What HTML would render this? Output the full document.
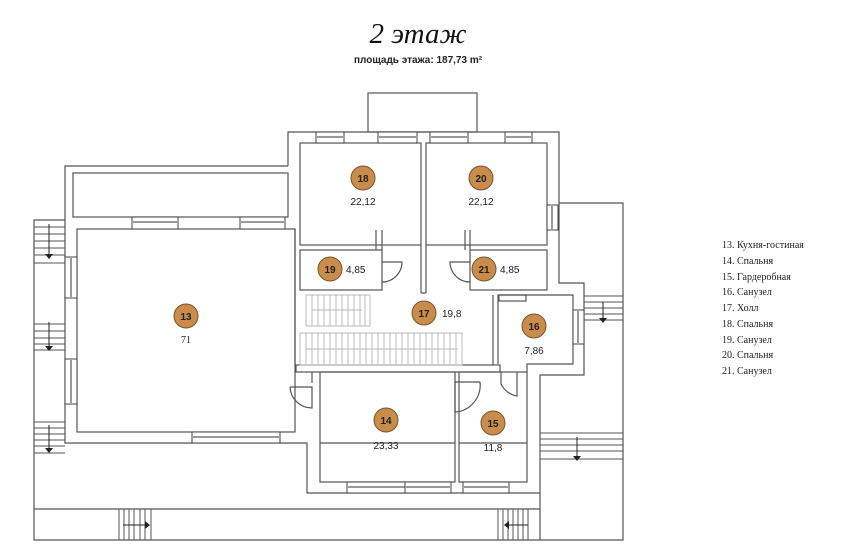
<!DOCTYPE html>
<html><head><meta charset="utf-8"><style>
body{margin:0;background:#fff;width:859px;height:558px;overflow:hidden}
svg{position:absolute;left:0;top:0}
</style></head><body>
<svg width="859" height="558" viewBox="0 0 859 558" xmlns="http://www.w3.org/2000/svg">
<text x="418" y="43" text-anchor="middle" font-family="Liberation Serif,serif" font-style="italic" font-size="29" fill="#111">2 этаж</text>
<text x="418" y="63" text-anchor="middle" font-family="Liberation Sans,sans-serif" font-weight="bold" font-size="10" fill="#222">площадь этажа: 187,73 m²</text>
<g fill="none" stroke="#555" stroke-width="1.2">
<!-- balcony top -->
<rect x="368" y="93" width="109" height="39"/>
<!-- bedroom block outer -->
<polyline points="288,166 288,132 559,132 559,283 584,283 584,375 540,375 540,540"/>
<!-- left wing outer -->
<polyline points="288,166 65,166 65,443 307,443 307,493 540,493"/>
<rect x="73" y="173" width="215" height="44"/>
<rect x="77" y="229" width="218" height="203"/>
<!-- left terrace -->
<polyline points="65,220 34,220 34,540 540,540"/>
<line x1="34" y1="509" x2="540" y2="509"/>
<!-- right terrace -->
<polyline points="559,203 623,203 623,540 540,540"/>
<!-- bedrooms -->
<rect x="300" y="143" width="121" height="102"/>
<rect x="426" y="143" width="121" height="102"/>
<rect x="300" y="250" width="82" height="40"/>
<rect x="470" y="250" width="77" height="40"/>
<line x1="421" y1="245" x2="421" y2="293"/><line x1="426" y1="245" x2="426" y2="293"/>
<line x1="421" y1="293" x2="426" y2="293"/>
<line x1="376" y1="230" x2="376" y2="250"/><line x1="382" y1="230" x2="382" y2="250"/>
<line x1="465" y1="230" x2="465" y2="250"/><line x1="470" y1="230" x2="470" y2="250"/>
<line x1="295" y1="229" x2="295" y2="365"/>
<line x1="493" y1="295" x2="493" y2="365"/>
<!-- hall bottom wall -->
<rect x="296" y="365" width="204" height="7"/>
<!-- rooms 14,15 -->
<rect x="320" y="372" width="135" height="110"/>
<rect x="459" y="372" width="68" height="110"/>
<line x1="320" y1="443" x2="455" y2="443"/><line x1="459" y1="443" x2="527" y2="443"/>
<line x1="312" y1="372" x2="312" y2="383"/>
<!-- room 16 -->
<polyline points="498,364 498,295 573,295 573,364 527,364 527,372"/>
<rect x="499" y="295" width="27" height="6"/>
<!-- doors -->
<path d="M382,262 L402,262 A20,20 0 0 1 382,282" />
<path d="M470,262 L450,262 A20,20 0 0 0 470,282" />
<path d="M290,387 L312,387 L312,408 A22,22 0 0 1 290,387"/>
<path d="M480,382 L455,382 L455,412 A27,27 0 0 0 480,382"/>
<path d="M501,372 L501,384 A22,22 0 0 0 517,396 L517,372"/>
</g>
<!-- windows -->
<g fill="#fff" stroke="#444" stroke-width="1">
<rect x="316" y="132" width="28" height="11"/><rect x="378" y="132" width="39" height="11"/>
<rect x="430" y="132" width="38" height="11"/><rect x="505" y="132" width="27" height="11"/>
<rect x="132" y="217" width="46" height="12"/><rect x="240" y="217" width="45" height="12"/>
<rect x="65" y="257" width="12" height="41"/><rect x="65" y="359" width="12" height="45"/>
<rect x="192" y="432" width="88" height="11"/>
<rect x="547" y="205" width="11" height="25"/><rect x="573" y="310" width="11" height="34"/>
<rect x="347" y="482" width="59" height="11"/><rect x="405" y="482" width="46" height="11"/><rect x="463" y="482" width="46" height="11"/>
</g>
<g stroke="#333" stroke-width="1">
<line x1="133" y1="222" x2="177" y2="222"/><line x1="241" y1="222" x2="284" y2="222"/>
<line x1="71" y1="258" x2="71" y2="297"/><line x1="71" y1="360" x2="71" y2="403"/>
<line x1="193" y1="437" x2="279" y2="437"/>
<line x1="317" y1="137" x2="343" y2="137"/><line x1="379" y1="137" x2="416" y2="137"/><line x1="431" y1="137" x2="467" y2="137"/><line x1="506" y1="137" x2="531" y2="137"/>
<line x1="552" y1="206" x2="552" y2="229"/><line x1="578" y1="311" x2="578" y2="343"/>
<line x1="348" y1="487" x2="405" y2="487"/><line x1="406" y1="487" x2="450" y2="487"/><line x1="464" y1="487" x2="508" y2="487"/>
</g>
<!-- outer stairs -->
<g stroke="#555" stroke-width="1" fill="none">
<path d="M34,227H65M34,234H65M34,241H65M34,248H65M34,255H65M34,263H65"/>
<path d="M34,324H65M34,331H65M34,338H65M34,344H65M34,350H65"/>
<path d="M34,422H65M34,428H65M34,434H65M34,440H65M34,446H65M34,453H65"/>
<path d="M119,509V540M124,509V540M129,509V540M134,509V540M140,509V540M145,509V540M151,509V540"/>
<path d="M584,296H623M584,302H623M584,308H623M584,314H623M584,320H623"/>
<path d="M540,433H623M540,439H623M540,445H623M540,451H623M540,459H623"/>
<path d="M498,509V540M503,509V540M508,509V540M513,509V540M518,509V540M523,509V540M528,509V540"/>
<path d="M49,224V254M49,322V346M49,425V448M123,525H145M603,302V318M577,437V456M505,525H528" stroke="#222"/>
</g>
<g fill="#222">
<polygon points="45,254 53,254 49,259"/><polygon points="45,346 53,346 49,351"/><polygon points="45,448 53,448 49,453"/>
<polygon points="145,521 145,529 150,525"/><polygon points="599,318 607,318 603,323"/><polygon points="573,456 581,456 577,461"/><polygon points="509,521 509,529 504,525"/>
</g>
<!-- interior stairs -->
<g stroke="#bbb" stroke-width="1" fill="none">
<rect x="306" y="295" width="64" height="31"/>
<path d="M312,295V326M318,295V326M324,295V326M330,295V326M336,295V326M342,295V326M348,295V326M354,295V326M360,295V326M365,295V326"/>
<line x1="312" y1="310" x2="362" y2="310"/>
<rect x="300" y="333" width="162" height="32"/>
<path d="M306,333V365M312,333V365M318,333V365M324,333V365M330,333V365M336,333V365M342,333V365M348,333V365M354,333V365M360,333V365M366,333V365M372,333V365M378,333V365M384,333V365M390,333V365M396,333V365M402,333V365M408,333V365M414,333V365M420,333V365M426,333V365M432,333V365M438,333V365M444,333V365M450,333V365M456,333V365"/>
<line x1="306" y1="349" x2="458" y2="349"/>
</g>
<!-- labels -->
<g font-family="Liberation Sans,sans-serif" font-size="10" font-weight="bold" text-anchor="middle" fill="#222">
<circle cx="363" cy="178" r="12" fill="#c98c4a" stroke="#7a5530"/><text x="363" y="182">18</text>
<circle cx="481" cy="178" r="12" fill="#c98c4a" stroke="#7a5530"/><text x="481" y="182">20</text>
<circle cx="330" cy="269" r="12" fill="#c98c4a" stroke="#7a5530"/><text x="330" y="273">19</text>
<circle cx="484" cy="269" r="12" fill="#c98c4a" stroke="#7a5530"/><text x="484" y="273">21</text>
<circle cx="424" cy="313" r="12" fill="#c98c4a" stroke="#7a5530"/><text x="424" y="317">17</text>
<circle cx="534" cy="326" r="12" fill="#c98c4a" stroke="#7a5530"/><text x="534" y="330">16</text>
<circle cx="186" cy="316" r="12" fill="#c98c4a" stroke="#7a5530"/><text x="186" y="320">13</text>
<circle cx="386" cy="420" r="12" fill="#c98c4a" stroke="#7a5530"/><text x="386" y="424">14</text>
<circle cx="493" cy="423" r="12" fill="#c98c4a" stroke="#7a5530"/><text x="493" y="427">15</text>
</g>
<g font-family="Liberation Sans,sans-serif" font-size="10" fill="#222">
<text x="363" y="205" text-anchor="middle">22,12</text>
<text x="481" y="205" text-anchor="middle">22,12</text>
<text x="346" y="273">4,85</text>
<text x="500" y="273">4,85</text>
<text x="442" y="317">19,8</text>
<text x="534" y="354" text-anchor="middle">7,86</text>
<text x="386" y="449" text-anchor="middle">23,33</text>
<text x="493" y="451" text-anchor="middle">11,8</text>
</g>
<text x="186" y="343" text-anchor="middle" font-family="Liberation Serif,serif" font-size="10" fill="#222">71</text>
<g font-family="Liberation Serif,serif" font-size="10" fill="#222">
<text x="722" y="248">13. Кухня-гостиная</text>
<text x="722" y="264">14. Спальня</text>
<text x="722" y="280">15. Гардеробная</text>
<text x="722" y="295">16. Санузел</text>
<text x="722" y="311">17. Холл</text>
<text x="722" y="327">18. Спальня</text>
<text x="722" y="343">19. Санузел</text>
<text x="722" y="358">20. Спальня</text>
<text x="722" y="374">21. Санузел</text>
</g>
</svg>
</body></html>
